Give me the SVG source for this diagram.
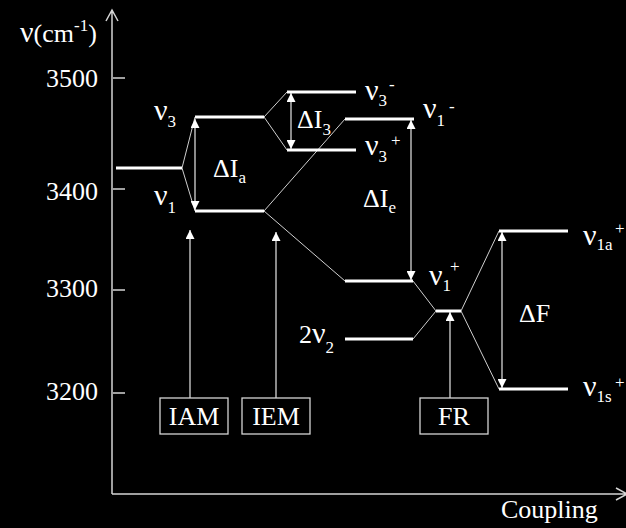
<svg xmlns="http://www.w3.org/2000/svg" width="626" height="528" viewBox="0 0 626 528">
<style>
text{font-family:"Liberation Serif","Times New Roman",serif;fill:#fff;font-size:26px}
.nu{font-size:30px}
.sub{font-size:17px}
.sup{font-size:17px}
.axis{stroke:#d4d4d4;stroke-width:1.5;fill:none}
.lvl{stroke:#fff;stroke-width:3}
.conn line{stroke:#cfcfcf;stroke-width:1}
.arr{stroke:#e8e8e8;stroke-width:1.2}
.box{fill:none;stroke:#d4d4d4;stroke-width:1.3}
</style>
<defs>
<marker id="ah" viewBox="0 0 10 10" refX="10" refY="5" markerWidth="10" markerHeight="9" markerUnits="userSpaceOnUse" orient="auto-start-reverse">
<path d="M0,0 L10,5 L0,10 z" fill="#fff"/>
</marker>
</defs>
<rect width="626" height="528" fill="#000"/>
<g id="axes">
<path class="axis" d="M112,494 L112,10 M106,21 L112,10 L118,21 M112,494 L626,494 M616,488 L627,494 L616,500"/>
<path class="axis" d="M113,78 H125 M113,189 H125 M113,290 H125 M113,393 H125"/>
<text x="20" y="42"><tspan class="nu">ν</tspan>(cm<tspan class="sup" y="31">-1</tspan><tspan y="42">)</tspan></text>
<text x="98" y="87" text-anchor="end" font-size="27">3500</text>
<text x="98" y="200" text-anchor="end" font-size="27">3400</text>
<text x="98" y="297" text-anchor="end" font-size="27">3300</text>
<text x="98" y="400" text-anchor="end" font-size="27">3200</text>
<text x="501" y="518">Coupling</text>
</g>
<g id="connectors" class="conn">
<line x1="182" y1="168" x2="195" y2="117"/>
<line x1="182" y1="168" x2="195" y2="211"/>
<line x1="264" y1="117" x2="287" y2="92"/>
<line x1="264" y1="117" x2="287" y2="150"/>
<line x1="264" y1="211" x2="345" y2="119"/>
<line x1="264" y1="211" x2="345" y2="281"/>
<line x1="413" y1="281" x2="436" y2="311"/>
<line x1="413" y1="339" x2="436" y2="311"/>
<line x1="461" y1="311" x2="499" y2="231"/>
<line x1="461" y1="311" x2="499" y2="389"/>
</g>
<g id="arrows">
<line class="arr" x1="195" y1="119" x2="195" y2="210" marker-start="url(#ah)" marker-end="url(#ah)"/>
<line class="arr" x1="291" y1="93" x2="291" y2="149" marker-start="url(#ah)" marker-end="url(#ah)"/>
<line class="arr" x1="411" y1="120" x2="411" y2="280" marker-start="url(#ah)" marker-end="url(#ah)"/>
<line class="arr" x1="502" y1="232" x2="502" y2="388" marker-start="url(#ah)" marker-end="url(#ah)"/>
<line class="arr" x1="190" y1="398" x2="190" y2="230" marker-end="url(#ah)"/>
<line class="arr" x1="276" y1="398" x2="276" y2="232" marker-end="url(#ah)"/>
<line class="arr" x1="450" y1="398" x2="450" y2="312" marker-end="url(#ah)"/>
</g>
<g id="level-start"><line class="lvl" x1="116" y1="168" x2="182" y2="168"/></g>
<g id="level-nu3">
<line class="lvl" x1="195" y1="117" x2="264" y2="117"/>
<text class="nu" x="154" y="120">ν<tspan class="sub" y="127">3</tspan></text>
</g>
<g id="level-nu1">
<line class="lvl" x1="195" y1="211" x2="264" y2="211"/>
<text class="nu" x="154" y="205">ν<tspan class="sub" y="213">1</tspan></text>
</g>
<g id="label-dIa"><text x="213" y="177">ΔI<tspan class="sub" y="183">a</tspan></text></g>
<g id="level-nu3m">
<line class="lvl" x1="287" y1="92" x2="356" y2="92"/>
<text class="nu" x="365" y="100">ν<tspan class="sub" y="106">3</tspan><tspan class="sup" x="389" y="90">-</tspan></text>
</g>
<g id="level-nu3p">
<line class="lvl" x1="287" y1="150" x2="356" y2="150"/>
<text class="nu" x="365" y="155">ν<tspan class="sub" y="162">3</tspan><tspan class="sup" x="391" y="146">+</tspan></text>
</g>
<g id="label-dI3"><text x="297" y="128">ΔI<tspan class="sub" y="135">3</tspan></text></g>
<g id="level-nu1m">
<line class="lvl" x1="345" y1="119" x2="414" y2="119"/>
<text class="nu" x="423" y="118">ν<tspan class="sub" y="126">1</tspan><tspan class="sup" x="449" y="112">-</tspan></text>
</g>
<g id="label-dIe"><text x="363" y="207">ΔI<tspan class="sub" y="213">e</tspan></text></g>
<g id="level-nu1p">
<line class="lvl" x1="345" y1="281" x2="413" y2="281"/>
<text class="nu" x="429" y="285">ν<tspan class="sub" y="291">1</tspan><tspan class="sup" x="450" y="272">+</tspan></text>
</g>
<g id="level-2nu2">
<line class="lvl" x1="345" y1="339" x2="413" y2="339"/>
<text x="299" y="343">2<tspan class="nu">ν</tspan><tspan class="sub" y="353">2</tspan></text>
</g>
<g id="level-fr"><line class="lvl" x1="436" y1="311" x2="461" y2="311"/></g>
<g id="level-nu1ap">
<line class="lvl" x1="499" y1="231" x2="568" y2="231"/>
<text class="nu" x="583" y="245">ν<tspan class="sub" y="250">1a</tspan><tspan class="sup" x="615" y="234">+</tspan></text>
</g>
<g id="level-nu1sp">
<line class="lvl" x1="499" y1="389" x2="568" y2="389"/>
<text class="nu" x="583" y="396">ν<tspan class="sub" y="402">1s</tspan><tspan class="sup" x="615" y="388">+</tspan></text>
</g>
<g id="label-dF"><text x="519" y="322">ΔF</text></g>
<g id="box-iam"><rect class="box" x="160" y="398" width="68" height="36"/><text x="194" y="425" text-anchor="middle">IAM</text></g>
<g id="box-iem"><rect class="box" x="242" y="398" width="68" height="36"/><text x="276" y="425" text-anchor="middle">IEM</text></g>
<g id="box-fr"><rect class="box" x="420" y="398" width="68" height="36"/><text x="454" y="425" text-anchor="middle">FR</text></g>
</svg>
